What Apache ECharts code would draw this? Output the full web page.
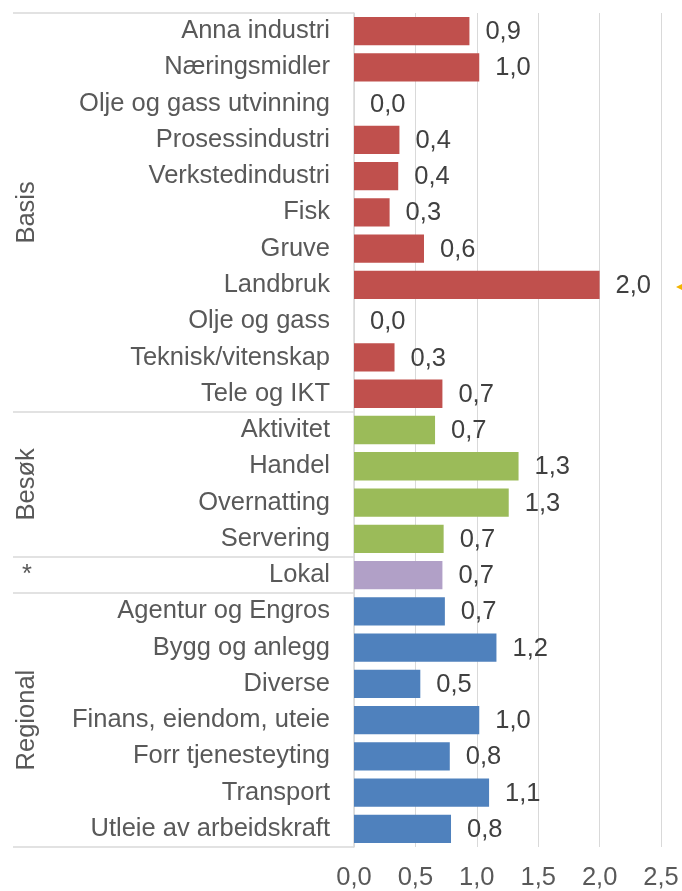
<!DOCTYPE html>
<html>
<head>
<meta charset="utf-8">
<script src="https://cdn.jsdelivr.net/npm/echarts@6/dist/echarts.min.js"></script>
<style>
  html, body { margin: 0; padding: 0; background: #fff; }
  #main { width: 682px; height: 891px; }
</style>
</head>
<body>
<div id="main"></div>
<script>
// bransjer (kategorier) ovenfra og ned
var categories = [
  'Anna industri', 'Næringsmidler', 'Olje og gass utvinning', 'Prosessindustri',
  'Verkstedindustri', 'Fisk', 'Gruve', 'Landbruk', 'Olje og gass',
  'Teknisk/vitenskap', 'Tele og IKT',
  'Aktivitet', 'Handel', 'Overnatting', 'Servering',
  'Lokal',
  'Agentur og Engros', 'Bygg og anlegg', 'Diverse', 'Finans, eiendom, uteie',
  'Forr tjenesteyting', 'Transport', 'Utleie av arbeidskraft'
];
var values = [
  0.94, 1.02, 0.0, 0.37, 0.36, 0.29, 0.57, 2.0, 0.0, 0.33, 0.72,
  0.66, 1.34, 1.26, 0.73,
  0.72,
  0.74, 1.16, 0.54, 1.02, 0.78, 1.10, 0.79
];
// grupper
var groupNames = ['Basis', 'Besøk', '*', 'Regional'];
var groupSizes = [11, 4, 1, 7];
var groupColors = ['#C0504D', '#9BBB59', '#B1A0C7', '#4F81BD'];
var xTicks = [0, 0.5, 1, 1.5, 2, 2.5];

var textColor = '#595959';
var lineColor = '#d9d9d9';
var fontFam = '"Liberation Sans", Arial, sans-serif';
var fs = 25.5;

// farge for hver stolpe + start-indeks for grupper
var barColors = [];
var groupStart = [];
var pos = 0;
for (var g = 0; g < groupSizes.length; g++) {
  groupStart.push(pos);
  for (var k = 0; k < groupSizes[g]; k++) { barColors.push(groupColors[g]); }
  pos += groupSizes[g];
}

var chart = echarts.init(document.getElementById('main'));

var option = {
  animation: false,
  grid: { left: 354, right: 21, top: 13, bottom: 43, containLabel: false },
  xAxis: {
    type: 'value',
    min: xTicks[0],
    max: xTicks[xTicks.length - 1],
    interval: 0.5,
    axisLine: { show: false },
    axisTick: { show: false },
    splitLine: { lineStyle: { color: lineColor, width: 1 } },
    axisLabel: {
      color: textColor, fontFamily: fontFam, fontSize: fs, margin: 18,
      formatter: function (v) { return v.toFixed(1).replace('.', ','); }
    }
  },
  yAxis: {
    type: 'category',
    inverse: true,
    data: categories,
    axisLine: { show: true, lineStyle: { color: lineColor, width: 1.5 } },
    axisTick: {
      show: true,
      length: 341,
      interval: function (idx) { return groupStart.indexOf(idx) >= 0; },
      lineStyle: { color: lineColor, width: 1.5 }
    },
    axisLabel: {
      interval: 0, color: textColor, fontFamily: fontFam, fontSize: fs, margin: 24
    }
  },
  series: [{
    type: 'bar',
    data: values.map(function (v, i) {
      return { value: v, itemStyle: { color: barColors[i] } };
    }),
    barCategoryGap: '22%',
    label: {
      show: true,
      position: 'right',
      distance: 16,
      offset: [0, 1],
      color: '#404040',
      fontFamily: fontFam,
      fontSize: fs,
      formatter: function (p) { return p.value.toFixed(1).replace('.', ','); }
    }
  }]
};
chart.setOption(option);

// gruppenavn til venstre, midt i hver gruppe
var graphics = [];
for (var g = 0; g < groupNames.length; g++) {
  var first = chart.convertToPixel({ yAxisIndex: 0 }, categories[groupStart[g]]);
  var last = chart.convertToPixel({ yAxisIndex: 0 }, categories[groupStart[g] + groupSizes[g] - 1]);
  var mid = (first + last) / 2;
  var rotate = groupNames[g] !== '*';
  graphics.push({
    type: 'text',
    x: 27,
    y: mid,
    rotation: rotate ? Math.PI / 2 : 0,
    style: {
      text: groupNames[g],
      fill: textColor,
      font: fs + 'px ' + fontFam,
      align: 'center',
      verticalAlign: 'middle'
    }
  });
}
// liten oransje markør i høyre kant
var yLand = chart.convertToPixel({ yAxisIndex: 0 }, 'Landbruk');
graphics.push({
  type: 'polygon',
  shape: { points: [[676, yLand + 2], [682, yLand - 1], [682, yLand + 5]] },
  style: { fill: '#F4B400' }
});
chart.setOption({ graphic: graphics });
</script>
</body>
</html>
